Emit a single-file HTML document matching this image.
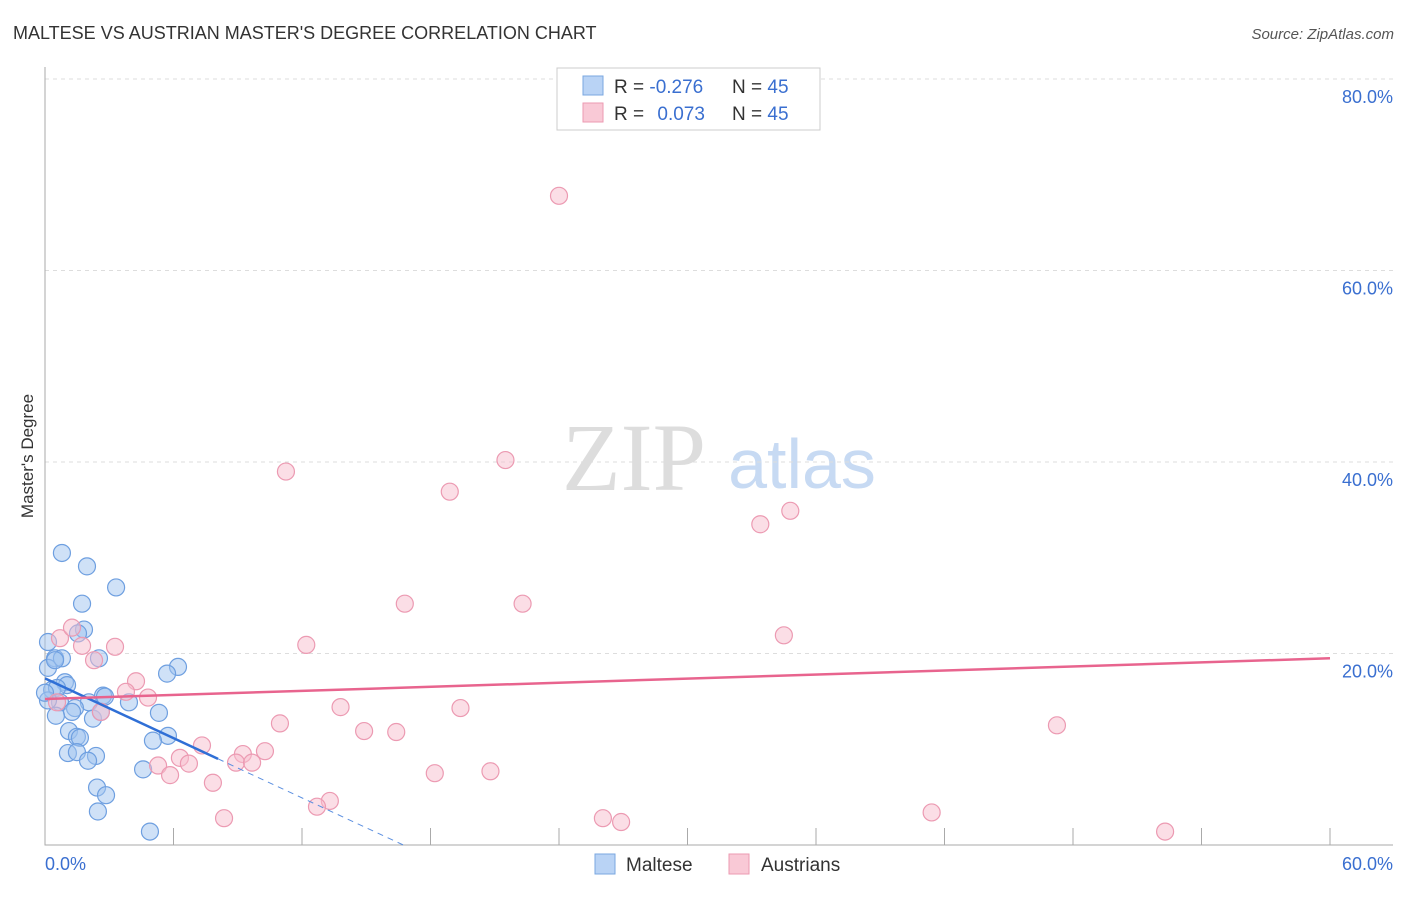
<!DOCTYPE html>
<html><head><meta charset="utf-8"><style>
body{margin:0;background:#fff;font-family:"Liberation Sans",sans-serif}
</style></head><body>
<svg id="chart" width="1406" height="892" xmlns="http://www.w3.org/2000/svg" font-family="Liberation Sans, sans-serif">
<text x="13" y="39" font-size="18" fill="#333">MALTESE VS AUSTRIAN MASTER'S DEGREE CORRELATION CHART</text>
<text x="1394" y="39" font-size="15" fill="#555" font-style="italic" text-anchor="end">Source: ZipAtlas.com</text>
<text transform="translate(33,456) rotate(-90)" font-size="17" fill="#333" text-anchor="middle">Master's Degree</text>
<g>
<text x="634" y="490" font-size="96" fill="#ddd" font-family="Liberation Serif, serif" text-anchor="middle">ZIP</text>
<text x="802" y="488" font-size="70" fill="#c7daf3" text-anchor="middle">atlas</text>
</g>
<g id="grid"></g><g id="axes"></g><g id="pts"></g><g id="trend"></g>
<g>
<rect x="557" y="68" width="263" height="62" fill="#fff" stroke="#ccc"/>
<rect x="583" y="76" width="20" height="19" fill="#b9d3f5" stroke="#7aa7e0"/>
<rect x="583" y="103" width="20" height="19" fill="#f9c9d6" stroke="#ec9ab2"/>
<text x="614" y="93" font-size="19" fill="#333">R = <tspan fill="#3a6fd0">-0.276</tspan></text>
<text x="732" y="93" font-size="19" fill="#333">N = <tspan fill="#3a6fd0">45</tspan></text>
<text x="614" y="120" font-size="19" fill="#333">R = <tspan fill="#3a6fd0" dx="8">0.073</tspan></text>
<text x="732" y="120" font-size="19" fill="#333">N = <tspan fill="#3a6fd0">45</tspan></text>
</g>
<g>
<rect x="595" y="854" width="20" height="20" fill="#b9d3f5" stroke="#7aa7e0"/>
<text x="626" y="871" font-size="19" fill="#333">Maltese</text>
<rect x="729" y="854" width="20" height="20" fill="#f9c9d6" stroke="#ec9ab2"/>
<text x="761" y="871" font-size="19" fill="#333">Austrians</text>
</g>
</svg>
<script>
const yTicks=[20,40,60,80];
const yTickLabels=["20.0%","40.0%","60.0%","80.0%"];
const xEndLabels=["0.0%","60.0%"];
const malteseX=[0.79,1.96,3.32,1.73,1.82,1.54,0.14,0.47,0.79,2.52,6.21,5.70,0.14,0.93,1.03,0.33,0.56,2.71,2.80,2.05,3.92,0.70,1.40,1.26,5.32,2.24,0.51,2.61,1.12,1.49,1.63,5.74,5.04,1.07,1.49,2.38,2.01,4.58,2.43,2.85,2.47,4.90,0.14,0.47,0.0];
const malteseY=[30.5,29.1,26.9,25.2,22.5,22.1,21.2,19.5,19.5,19.5,18.6,17.9,18.5,17.0,16.7,16.2,16.4,15.6,15.5,14.9,14.9,14.9,14.3,13.9,13.8,13.2,13.5,13.9,11.9,11.3,11.2,11.4,10.9,9.6,9.7,9.3,8.8,7.9,6.0,5.2,3.5,1.4,15.1,19.3,15.9];
const austrianX=[24.0,21.5,11.25,18.9,34.8,33.4,16.8,22.3,34.5,12.2,0.70,1.26,1.73,3.27,2.29,4.25,3.78,4.81,0.56,2.61,10.97,13.8,19.4,47.25,14.9,16.4,7.33,10.27,9.24,6.30,6.72,8.92,9.67,5.28,5.84,18.2,20.8,7.84,13.3,12.7,41.4,26.05,26.9,8.36,52.3];
const austrianY=[67.8,40.2,39.0,36.9,34.9,33.5,25.2,25.2,21.9,20.9,21.6,22.7,20.8,20.7,19.3,17.1,16.0,15.4,14.9,13.9,12.7,14.4,14.3,12.5,11.9,11.8,10.4,9.8,9.5,9.1,8.5,8.6,8.6,8.3,7.3,7.5,7.7,6.5,4.6,4.0,3.4,2.8,2.4,2.8,1.4];
const malteseTrend=[17.4,-1.04];
const austrianTrend=[15.25,0.0708];
const NS="http://www.w3.org/2000/svg";
const X=v=>45+v*1285/60, Y=v=>845-v*191.5/20;
function mk(p,t,a){const e=document.createElementNS(NS,t);for(const k in a)e.setAttribute(k,a[k]);document.getElementById(p).appendChild(e);return e;}
yTicks.forEach((t,i)=>{
 const g=mk('grid','line',{x1:45,x2:1393,y1:Y(t),y2:Y(t),stroke:'#ddd','stroke-dasharray':'4,4'});
 
 
 const l=mk('grid','text',{x:1393,y:Y(t)+24,'font-size':18,fill:'#3a6fd0','text-anchor':'end'});
 l.textContent=yTickLabels[i];
 
 
});
const ax=mk('axes','path',{d:'M45,67V845H1393',stroke:'#aaa',fill:'none'});


for(let i=1;i<=10;i++){const t=mk('axes','line',{x1:X(i*6),x2:X(i*6),y1:828,y2:845,stroke:'#aaa'});
 
 }
[[0,'start',45],[60,'end',1393]].forEach((d,i)=>{const l=mk('axes','text',{x:d[2],y:870,'font-size':18,fill:'#3a6fd0','text-anchor':d[1]});
 l.textContent=xEndLabels[i];
 
 });
malteseX.forEach((x,i)=>{const c=mk('pts','circle',{cx:X(x),cy:Y(malteseY[i]),r:8.5,fill:'rgba(160,196,240,0.5)',stroke:'#6e9fe0','stroke-width':1.2});
 
 });
austrianX.forEach((x,i)=>{const c=mk('pts','circle',{cx:X(x),cy:Y(austrianY[i]),r:8.5,fill:'rgba(248,190,206,0.5)',stroke:'#ec9ab2','stroke-width':1.2});
 
 });
const mf=x=>malteseTrend[0]+malteseTrend[1]*x, af=x=>austrianTrend[0]+austrianTrend[1]*x;
const xm=8.08, xz=-malteseTrend[0]/malteseTrend[1];
let t1=mk('trend','line',{x1:X(0),y1:Y(mf(0)),x2:X(xm),y2:Y(mf(xm)),stroke:'#2f6fd6','stroke-width':2.5});


let t2=mk('trend','line',{x1:X(xm),y1:Y(mf(xm)),x2:X(xz),y2:Y(0),stroke:'#5b8fe0','stroke-width':1,'stroke-dasharray':'6,5'});


let t3=mk('trend','line',{x1:X(0),y1:Y(af(0)),x2:X(60),y2:Y(af(60)),stroke:'#e8648e','stroke-width':2.5});


</script>
</body></html>
